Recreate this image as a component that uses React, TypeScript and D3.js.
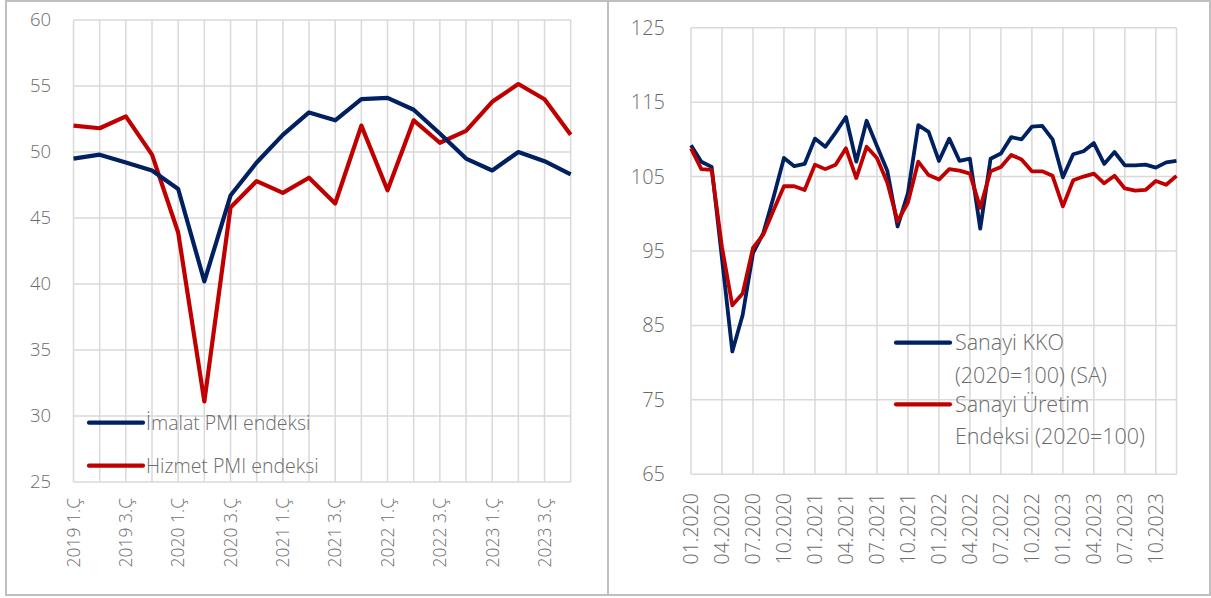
import React from "react";
import * as d3 from "d3";

const quarters = [
  "2019 1.Ç", "2019 2.Ç", "2019 3.Ç", "2019 4.Ç",
  "2020 1.Ç", "2020 2.Ç", "2020 3.Ç", "2020 4.Ç",
  "2021 1.Ç", "2021 2.Ç", "2021 3.Ç", "2021 4.Ç",
  "2022 1.Ç", "2022 2.Ç", "2022 3.Ç", "2022 4.Ç",
  "2023 1.Ç", "2023 2.Ç", "2023 3.Ç", "2023 4.Ç",
];
const imalatPMI = [49.5, 49.8, 49.2, 48.6, 47.2, 40.2, 46.7, 49.2, 51.3, 53.0, 52.4, 54.0, 54.1, 53.2, 51.4, 49.5, 48.6, 50.0, 49.3, 48.3];
const hizmetPMI = [52.0, 51.8, 52.7, 49.8, 43.9, 31.1, 45.8, 47.8, 46.9, 48.05, 46.1, 52.0, 47.1, 52.4, 50.7, 51.6, 53.8, 55.15, 54.0, 51.3];
const leftTicks = [25, 30, 35, 40, 45, 50, 55, 60];

const months: string[] = [];
for (let y = 2020; y <= 2023; y++) for (let m = 1; m <= 12; m++) months.push(String(m).padStart(2, "0") + "." + y);
const sanayiKKO = [
  109.2, 107.0, 106.3, 94.0, 81.5, 86.4, 94.7, 97.4, 102.3, 107.5, 106.4, 106.7,
  110.1, 109.0, 110.9, 113.0, 107.0, 112.5, 109.1, 105.8, 98.3, 102.8, 111.9, 111.0,
  107.1, 110.1, 107.1, 107.4, 98.0, 107.4, 108.1, 110.3, 110.0, 111.7, 111.8, 110.0,
  104.9, 108.0, 108.4, 109.5, 106.7, 108.3, 106.5, 106.5, 106.6, 106.2, 106.9, 107.1,
];
const sanayiUretim = [
  108.8, 106.0, 105.9, 95.5, 87.7, 89.3, 95.4, 97.2, 100.5, 103.7, 103.7, 103.2,
  106.6, 106.0, 106.6, 108.8, 104.8, 109.0, 107.5, 104.2, 99.0, 101.5, 107.0, 105.2,
  104.6, 106.0, 105.8, 105.4, 100.8, 105.7, 106.3, 107.9, 107.3, 105.7, 105.7, 105.1,
  101.0, 104.5, 105.0, 105.4, 104.1, 105.1, 103.4, 103.1, 103.2, 104.4, 103.9, 105.1,
];
const rightTicks = [65, 75, 85, 95, 105, 115, 125];

const BLUE = "#002060";
const RED = "#C00000";
const GRID = "#d9d9d9";
const TXT = "#6b6b6b";
const FONT = "'Open Sans', 'Noto Sans', sans-serif";

function LeftChart() {
  const x = d3.scaleLinear().domain([0, quarters.length - 1]).range([73.5, 570.7]);
  const y = d3.scaleLinear().domain([25, 60]).range([482, 20]);
  const line = d3.line<number>().x((_, i) => x(i)).y((d) => y(d));
  return (
    <g>
      {leftTicks.map((t) => (
        <g key={t}>
          <line x1={x(0)} x2={x(quarters.length - 1)} y1={y(t)} y2={y(t)} stroke={GRID} strokeWidth={1.5} />
          <text x={51} y={y(t)} dy="0.35em" textAnchor="end" fontSize={18.5} fill={TXT}>{t}</text>
        </g>
      ))}
      {quarters.map((q, i) => (
        <line key={q} x1={x(i)} x2={x(i)} y1={y(60)} y2={y(25)} stroke={GRID} strokeWidth={1.5} />
      ))}
      {quarters.map((q, i) =>
        i % 2 === 0 ? (
          <text key={"l" + q} transform={`translate(${x(i)},498) rotate(-90)`} dy="0.36em" textAnchor="end" fontSize={17.5} fill={TXT}>{q}</text>
        ) : null
      )}
      <path d={line(hizmetPMI) || ""} fill="none" stroke={RED} strokeWidth={4.2} strokeLinejoin="round" />
      <path d={line(imalatPMI) || ""} fill="none" stroke={BLUE} strokeWidth={4.2} strokeLinejoin="round" />
      <line x1={89} x2={143} y1={422.7} y2={422.7} stroke={BLUE} strokeWidth={4.2} strokeLinecap="round" />
      <text x={146} y={422.7} dy="0.35em" fontSize={19.5} fill={TXT}>İmalat PMI endeksi</text>
      <line x1={89} x2={143} y1={465.7} y2={465.7} stroke={RED} strokeWidth={4.2} strokeLinecap="round" />
      <text x={146} y={465.7} dy="0.35em" fontSize={19.5} fill={TXT}>Hizmet PMI endeksi</text>
    </g>
  );
}

function RightChart() {
  const x = d3.scaleLinear().domain([0, months.length - 1]).range([691, 1176.5]);
  const y = d3.scaleLinear().domain([65, 125]).range([474.3, 27.7]);
  const line = d3.line<number>().x((_, i) => x(i)).y((d) => y(d));
  const vIdx = months.map((_, i) => i).filter((i) => i % 3 === 0);
  return (
    <g>
      {rightTicks.map((t) => (
        <g key={t}>
          <line x1={x(0)} x2={x(months.length - 1)} y1={y(t)} y2={y(t)} stroke={GRID} strokeWidth={1.5} />
          <text x={665} y={y(t)} dy="0.35em" textAnchor="end" fontSize={20} fill={TXT}>{t}</text>
        </g>
      ))}
      {[...vIdx, months.length - 1].map((i) => (
        <line key={"v" + i} x1={x(i)} x2={x(i)} y1={y(125)} y2={y(65)} stroke={GRID} strokeWidth={1.5} />
      ))}
      {vIdx.map((i) => (
        <text key={"m" + i} transform={`translate(${x(i)},493) rotate(-90)`} dy="0.36em" textAnchor="end" fontSize={19.5} fill={TXT}>{months[i]}</text>
      ))}
      <path d={line(sanayiKKO) || ""} fill="none" stroke={BLUE} strokeWidth={3.8} strokeLinejoin="round" />
      <path d={line(sanayiUretim) || ""} fill="none" stroke={RED} strokeWidth={3.8} strokeLinejoin="round" />
      <line x1={896} x2={950} y1={342.7} y2={342.7} stroke={BLUE} strokeWidth={4.2} strokeLinecap="round" />
      <text x={955} y={342.7} dy="0.35em" fontSize={21.5} fill={TXT}>Sanayi KKO</text>
      <text x={955} y={375.7} dy="0.35em" fontSize={21.5} fill={TXT}>(2020=100) (SA)</text>
      <line x1={896} x2={950} y1={404.3} y2={404.3} stroke={RED} strokeWidth={4.2} strokeLinecap="round" />
      <text x={955} y={404.3} dy="0.35em" fontSize={21.5} fill={TXT}>Sanayi Üretim</text>
      <text x={955} y={436.7} dy="0.35em" fontSize={21.5} fill={TXT}>Endeksi (2020=100)</text>
    </g>
  );
}

export default function App() {
  return (
    <svg width={1211} height={598} style={{ position: "absolute", left: 0, top: 0, background: "#fff" }} fontFamily={FONT} fontWeight={300}>
      <rect x={0} y={0} width={1211} height={598} fill="#fff" />
      <rect x={6} y={1} width={602} height={594} fill="none" stroke="#bfbfbf" strokeWidth={2} />
      <rect x={608} y={1} width={602} height={594} fill="none" stroke="#bfbfbf" strokeWidth={2} />
      <LeftChart />
      <RightChart />
    </svg>
  );
}
